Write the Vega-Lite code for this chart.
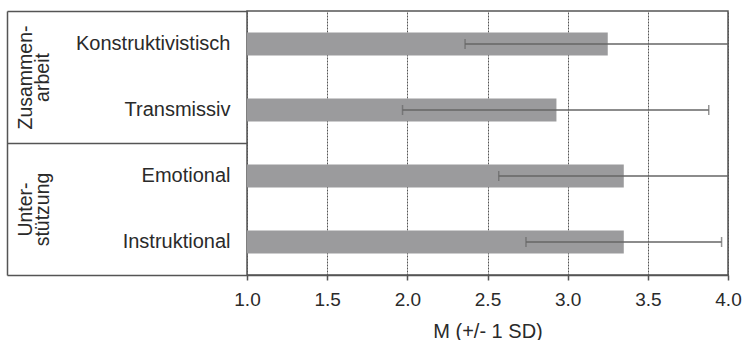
{
  "$schema": "https://vega.github.io/schema/vega-lite/v6.json",
  "width": 481,
  "height": 264,
  "autosize": "none",
  "padding": {"left": 247, "top": 11, "right": 16, "bottom": 65},
  "background": "white",
  "config": {
    "font": "Liberation Sans",
    "view": {"stroke": "#555", "strokeWidth": 1.5},
    "axis": {"labelColor": "#2a2a2a", "titleColor": "#2a2a2a", "labelFont": "Liberation Sans", "titleFont": "Liberation Sans"}
  },
  "data": {
    "values": [
      {"category": "Konstruktivistisch", "group": "Zusammenarbeit", "mean": 3.25, "lo": 2.36, "hi": 4.14},
      {"category": "Transmissiv", "group": "Zusammenarbeit", "mean": 2.93, "lo": 1.97, "hi": 3.88},
      {"category": "Emotional", "group": "Unterstützung", "mean": 3.35, "lo": 2.57, "hi": 4.13},
      {"category": "Instruktional", "group": "Unterstützung", "mean": 3.35, "lo": 2.74, "hi": 3.96}
    ]
  },
  "layer": [
    {
      "encoding": {
        "y": {
          "field": "category",
          "type": "nominal",
          "sort": ["Konstruktivistisch", "Transmissiv", "Emotional", "Instruktional"],
          "scale": {"paddingInner": 0, "paddingOuter": 0},
          "axis": {"title": null, "ticks": false, "domain": false, "labelPadding": 17, "labelFontSize": 20, "labelAlign": "right", "labelBaseline": "middle", "grid": false}
        }
      },
      "layer": [
        {
          "mark": {"type": "bar", "color": "#9b9b9d", "height": {"band": 0.345}},
          "encoding": {
            "x": {
              "field": "mean",
              "type": "quantitative",
              "scale": {"domain": [1, 4], "nice": false, "zero": false},
              "axis": {
                "title": "M (+/- 1 SD)",
                "values": [1, 1.5, 2, 2.5, 3, 3.5, 4],
                "format": ".1f",
                "grid": true,
                "gridColor": "#555",
                "gridDash": [2, 1],
                "gridWidth": 1,
                "domainColor": "#555",
                "domainWidth": 1.5,
                "tickColor": "#555",
                "tickWidth": 1.5,
                "tickSize": 5,
                "labelFontSize": 19,
                "labelPadding": 10,
                "labelFlush": false,
                "titleFontSize": 20,
                "titleFontWeight": "normal",
                "titlePadding": 12
              }
            },
            "x2": {"datum": 1}
          }
        },
        {
          "mark": {"type": "rule", "color": "#666", "strokeWidth": 1.5, "clip": true},
          "encoding": {
            "x": {"field": "lo", "type": "quantitative"},
            "x2": {"field": "hi"}
          }
        },
        {
          "mark": {"type": "tick", "color": "#666", "thickness": 1.5, "size": 10, "orient": "vertical", "clip": true},
          "encoding": {"x": {"field": "lo", "type": "quantitative"}}
        },
        {
          "mark": {"type": "tick", "color": "#666", "thickness": 1.5, "size": 10, "orient": "vertical", "clip": true},
          "encoding": {"x": {"field": "hi", "type": "quantitative"}}
        }
      ]
    },
    {
      "mark": {"type": "rule", "strokeOpacity": 0},
      "encoding": {
        "y": {
          "field": "group",
          "type": "nominal",
          "sort": ["Zusammenarbeit", "Unterstützung"],
          "scale": {"paddingInner": 0, "paddingOuter": 0},
          "axis": {
            "orient": "left",
            "offset": 240,
            "title": null,
            "grid": false,
            "domain": true,
            "domainColor": "#555",
            "domainWidth": 1.5,
            "ticks": true,
            "tickBand": "extent",
            "tickSize": -240,
            "tickColor": "#555",
            "tickWidth": 1.5,
            "labelAngle": 270,
            "labelAlign": "center",
            "labelBaseline": "middle",
            "labelPadding": 222,
            "labelFontSize": 19.5,
            "labelLineHeight": 17.5,
            "labelOverlap": false,
            "labelBound": false,
            "labelExpr": "datum.value == 'Zusammenarbeit' ? ['Zusammen-', 'arbeit'] : datum.value == 'Unterstützung' ? ['Unter-', 'stützung'] : ''"
          }
        }
      }
    }
  ],
  "resolve": {"scale": {"y": "independent"}, "axis": {"y": "independent"}}
}
